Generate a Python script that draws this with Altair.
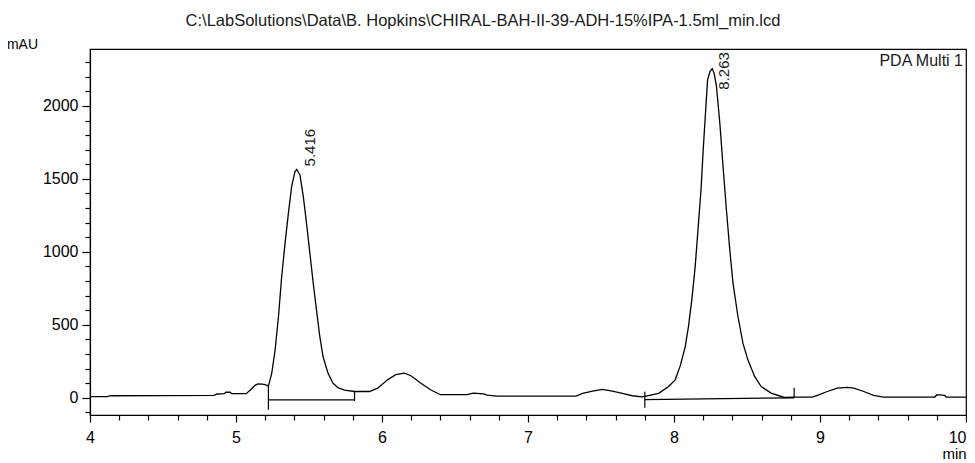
import altair as alt
import pandas as pd

# ---- chromatogram trace (min, mAU) ----
time_min = [4.00, 4.12, 4.14, 4.85, 4.87, 4.92, 4.93, 4.96, 4.97, 5.07, 5.10, 5.13, 5.15, 5.18,
            5.20, 5.222, 5.245, 5.268, 5.291, 5.313, 5.336, 5.359, 5.381, 5.404, 5.416, 5.438,
            5.461, 5.483, 5.506, 5.529, 5.551, 5.574, 5.596, 5.630, 5.664, 5.698, 5.744, 5.812,
            5.914, 5.970, 6.038, 6.094, 6.152, 6.196, 6.264, 6.332, 6.400, 6.582, 6.627, 6.695,
            6.720, 6.785, 7.329, 7.374, 7.442, 7.510, 7.578, 7.646, 7.714, 7.782, 7.800, 7.895,
            7.963, 8.008, 8.043, 8.077, 8.099, 8.122, 8.145, 8.166, 8.185, 8.200, 8.217, 8.230,
            8.246, 8.262, 8.275, 8.291, 8.314, 8.336, 8.359, 8.382, 8.404, 8.438, 8.472, 8.506,
            8.552, 8.597, 8.665, 8.755, 8.823, 8.948, 8.982, 9.050, 9.118, 9.186, 9.232, 9.300,
            9.367, 9.433, 9.786, 9.802, 9.854, 9.865, 10.00]
signal_mau = [8, 8, 14, 16, 26, 28, 38, 38, 28, 28, 55, 85, 95, 93,
              90, 80, 169, 329, 557, 831, 1060, 1265, 1447, 1550, 1565, 1527,
              1379, 1196, 991, 785, 603, 420, 283, 169, 100, 70, 52, 43,
              43, 66, 123, 158, 169, 153, 101, 55, 21, 21, 32, 27,
              18, 12, 12, 30, 46, 58, 46, 30, 14, 6, 10, 30,
              77, 123, 220, 351, 488, 671, 899, 1173, 1425, 1699, 1973, 2178,
              2235, 2255, 2224, 2132, 1881, 1584, 1288, 1014, 786, 557, 374, 260,
              146, 77, 32, 2, 5, 5, 16, 43, 66, 71, 66, 43,
              16, 5, 5, 21, 16, 5, 5]

# ---- detected peaks ----
peak_rt = [5.416, 8.263]
peak_height = [1565, 2255]
peak_label = ["5.416", "8.263"]

# ---- integration baselines ----
base_t0 = [5.222, 7.800]
base_v0 = [-14, -12]
base_t1 = [5.812, 8.823]
base_v1 = [-14, 0]

# ---- peak start / end markers ----
mark_t = [5.222, 5.812, 7.800, 8.823]
mark_top = [89, 45, 41, 68]
mark_bottom = [-82, -22, -68, 0]

# ---- axes ----
x_major = [4, 5, 6, 7, 8, 9, 10]
x_minor = [4.2, 4.4, 4.6, 4.8, 5.2, 5.4, 5.6, 5.8, 6.2, 6.4, 6.6, 6.8, 7.2, 7.4, 7.6, 7.8,
           8.2, 8.4, 8.6, 8.8, 9.2, 9.4, 9.6, 9.8]
y_major = [0, 500, 1000, 1500, 2000]
y_minor = [-100, 100, 200, 300, 400, 600, 700, 800, 900, 1100, 1200, 1300, 1400, 1600, 1700,
           1800, 1900, 2100, 2200, 2300]

TITLE = "C:\\LabSolutions\\Data\\B. Hopkins\\CHIRAL-BAH-II-39-ADH-15%IPA-1.5ml_min.lcd"
FONT = "Liberation Sans"
W, H = 876, 366

trace = pd.DataFrame({"t": time_min, "v": signal_mau})
peaks = pd.DataFrame({"t": peak_rt, "v": peak_height, "lab": peak_label})
bases = pd.DataFrame({"t0": base_t0, "v0": base_v0, "t1": base_t1, "v1": base_v1})
marks = pd.DataFrame({"t": mark_t, "top": mark_top, "bot": mark_bottom})

xs = alt.Scale(domain=[4, 10], nice=False, zero=False)
ys = alt.Scale(domain=[-118, 2390], nice=False, zero=False)

line = alt.Chart(trace).mark_line(color="black", strokeWidth=1.3).encode(
    x=alt.X("t:Q", scale=xs, axis=alt.Axis(
        values=x_major, format="d", tickSize=7, labelPadding=7, orient="bottom",
        labelAlign={"condition": {"test": "datum.value == 10", "value": "right"},
                    "value": "center"},
        title="min", titleX=W - 12, titleY=38, titleAlign="center", titleBaseline="middle",
        titleFontWeight="normal", titleFontSize=15, titleFont=FONT, labelFont=FONT,
        labelFontSize=16, grid=False, domainColor="black", tickColor="black",
        labelColor="black", titleColor="black")),
    y=alt.Y("v:Q", scale=ys, axis=alt.Axis(
        values=y_major, format="d", tickSize=8, labelPadding=4, orient="left",
        title="mAU", titleAngle=0, titleX=-68, titleY=-5, titleAlign="center",
        titleBaseline="middle", titleFontWeight="normal", titleFontSize=14, titleFont=FONT,
        labelFont=FONT, labelFontSize=16, grid=False, domainColor="black",
        tickColor="black", labelColor="black", titleColor="black")),
)

minor = alt.Chart(trace).mark_line(opacity=0).encode(
    x=alt.X("t:Q", scale=xs, axis=alt.Axis(
        values=x_minor, tickSize=5, labels=False, domain=False, grid=False,
        orient="bottom", title=None, tickColor="black")),
    y=alt.Y("v:Q", scale=ys, axis=alt.Axis(
        values=y_minor, tickSize=5, labels=False, domain=False, grid=False,
        orient="left", title=None, tickColor="black")),
)

baseline = alt.Chart(bases).mark_rule(color="black", strokeWidth=1.2).encode(
    x=alt.X("t0:Q", scale=xs, axis=None), x2="t1:Q",
    y=alt.Y("v0:Q", scale=ys, axis=None), y2="v1:Q",
)

markers = alt.Chart(marks).mark_rule(color="black", strokeWidth=1.2).encode(
    x=alt.X("t:Q", scale=xs, axis=None),
    y=alt.Y("top:Q", scale=ys, axis=None), y2="bot:Q",
)

lab1 = alt.Chart(peaks).transform_filter(alt.datum.lab == "5.416").mark_text(
    angle=270, align="left", baseline="middle", dx=3, dy=13, font=FONT, fontSize=15,
    color="#1a1a1a").encode(
    x=alt.X("t:Q", scale=xs, axis=None), y=alt.Y("v:Q", scale=ys, axis=None), text="lab:N")

lab2 = alt.Chart(peaks).transform_filter(alt.datum.lab == "8.263").mark_text(
    angle=270, align="left", baseline="middle", dx=-21, dy=12, font=FONT, fontSize=15,
    color="#1a1a1a").encode(
    x=alt.X("t:Q", scale=xs, axis=None), y=alt.Y("v:Q", scale=ys, axis=None), text="lab:N")

pda = alt.Chart(peaks).transform_filter(alt.datum.lab == "5.416").mark_text(
    align="right", baseline="middle", font=FONT, fontSize=16, color="#1a1a1a").encode(
    x=alt.value(W - 3), y=alt.value(12), text=alt.value("PDA Multi 1"))

chart = alt.layer(line, minor, baseline, markers, lab1, lab2, pda).resolve_axis(
    x="independent", y="independent"
).properties(
    width=W, height=H,
    title=alt.TitleParams(TITLE, font=FONT, fontSize=16.5, fontWeight="normal",
                          color="#1a1a1a", anchor="middle", dx=-45, offset=8),
    autosize=alt.AutoSizeParams(type="none"),
    padding={"left": 82, "top": 41, "right": 1, "bottom": 48},
).configure_view(stroke="black", strokeWidth=1.2).configure_axis(domainWidth=1.2, tickWidth=1.2)

chart.save("out.html", embed_options={"renderer": "svg", "actions": False})
